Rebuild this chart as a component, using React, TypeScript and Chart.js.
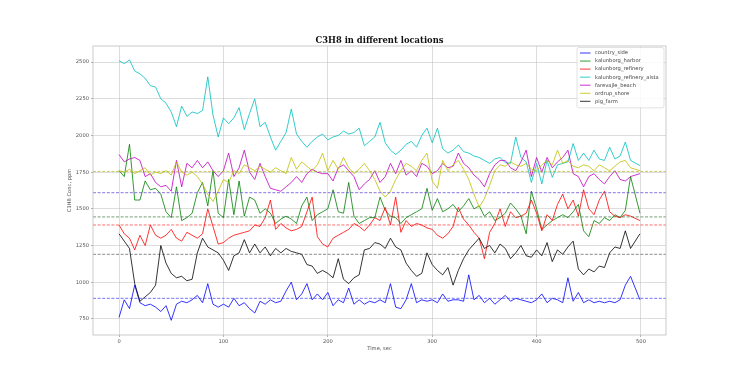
import { useEffect, useRef } from "react";
import { Chart, registerables } from "chart.js";

Chart.register(...registerables);

const TITLE = "C3H8 in different locations";
const X_LABEL = "Time, sec";
const Y_LABEL = "C3H8 Conc, ppm";

const TIMES = Array.from({ length: 100 }, (_, i) => (i === 99 ? 499 : i * 5));
const X_TICKS = [0, 100, 200, 300, 400, 500];
const Y_TICKS = [750, 1000, 1250, 1500, 1750, 2000, 2250, 2500];
const X_MIN = -24.95;
const X_MAX = 523.95;
const Y_MIN = 640;
const Y_MAX = 2610;

const SERIES_NAMES = [
  "country_side",
  "kalunborg_harbor",
  "kalunborg_refinery",
  "kalunborg_refinery_aista",
  "farevajle_beach",
  "ordrup_shore",
  "pig_farm",
];
const SERIES_COLORS = ["#0000ff", "#008000", "#ff0000", "#00bfbf", "#bf00bf", "#bfbf00", "#000000"];

const COUNTRY_SIDE = [
  760, 880, 820, 980, 860, 840, 850, 830, 800, 840,
  740, 850, 870, 860, 880, 910, 860, 990, 850, 830,
  850, 830, 890, 840, 860, 820, 790, 870, 850, 880,
  860, 870, 940, 1000, 880, 920, 990, 880, 920, 880,
  930, 840, 880, 860, 960, 850, 880, 850, 870, 860,
  880, 860, 990, 830, 820, 880, 990, 860, 880, 870,
  880, 860, 920, 870, 880, 880, 870, 1050, 880, 910,
  860, 890, 850, 880, 910, 870, 890, 880, 870, 860,
  880, 920, 860, 890, 880, 860, 1030, 870, 930, 860,
  880, 860, 870, 860, 870, 860, 880, 980, 1040, 880,
];
const KALUNBORG_HARBOR = [
  1760, 1720, 1940, 1560, 1560, 1690, 1630, 1640, 1600, 1480,
  1440, 1650, 1420, 1440, 1470, 1610, 1680, 1520, 1760, 1470,
  1440, 1700, 1460, 1690, 1450, 1580, 1560, 1470, 1500, 1470,
  1400, 1430, 1450, 1430, 1400, 1520, 1580, 1420, 1460, 1480,
  1500, 1630, 1480, 1470, 1680, 1450, 1400, 1420, 1440, 1440,
  1580, 1490, 1450, 1440, 1400, 1440, 1460, 1480, 1500, 1640,
  1490, 1570, 1480, 1500, 1530, 1480, 1520, 1570, 1500, 1520,
  1450, 1480, 1420, 1440, 1470, 1540, 1500, 1450, 1330, 1620,
  1500, 1360, 1390, 1420, 1440, 1460, 1440, 1480, 1530, 1350,
  1310, 1420, 1400, 1440, 1420, 1460, 1440, 1490, 1720, 1470,
];
const KALUNBORG_REFINERY = [
  1390, 1330, 1300, 1220, 1320, 1250, 1390, 1320, 1300, 1320,
  1360, 1300, 1280, 1340, 1320, 1300, 1330, 1500, 1380, 1260,
  1270, 1300, 1320, 1330, 1340, 1350, 1390, 1380, 1440, 1560,
  1360, 1400, 1370, 1350, 1360, 1380, 1480, 1580, 1310, 1260,
  1240, 1300, 1320, 1340, 1360, 1400, 1380, 1350, 1390, 1440,
  1420, 1510, 1390, 1580, 1340, 1420, 1380, 1400, 1390, 1370,
  1360, 1320, 1300, 1330, 1380, 1510, 1430, 1390, 1340, 1300,
  1160, 1340, 1400, 1500, 1380, 1480, 1440, 1450, 1470, 1560,
  1470, 1350, 1460, 1420, 1530, 1600, 1500, 1560, 1450, 1630,
  1500, 1460, 1560, 1620, 1480, 1450, 1440, 1460, 1450, 1420,
];
const KALUNBORG_REFINERY_AISTA = [
  2510, 2490, 2515, 2440, 2420, 2390, 2340, 2330, 2250, 2220,
  2160, 2060, 2200, 2130, 2160, 2150, 2170, 2400, 2140, 1990,
  2120, 2080, 2120, 2190, 2040, 2150, 2250, 2060, 2090, 1990,
  1900, 1960, 2020, 2180, 2010, 1960, 1920, 1960, 1990, 2010,
  1970, 1990, 2000, 2030, 2010, 2020, 2050, 1930, 1960, 1990,
  2090, 1950, 1900, 1870, 1900, 1940, 1960, 1920, 2000, 2050,
  1950, 2050, 1910, 1880, 1900, 1935, 1890, 1880, 1860, 1850,
  1830, 1810, 1840, 1850, 1815, 1810, 1990, 1850, 1820, 1680,
  1810, 1670, 1830, 1715, 1800, 1810, 1820, 1945, 1830, 1880,
  1830, 1900, 1840, 1830, 1920, 1840, 1860, 1955, 1830, 1795,
];
const FAREVAJLE_BEACH = [
  1870, 1820, 1840, 1850, 1830, 1720, 1740, 1680, 1650, 1660,
  1620, 1830, 1650, 1810, 1780, 1830, 1780, 1820, 1760, 1720,
  1760, 1880, 1720, 1780, 1900, 1750, 1700, 1810, 1720, 1640,
  1630, 1620, 1650, 1680, 1720, 1680, 1740, 1770, 1750, 1740,
  1740, 1690, 1780, 1800, 1760, 1720, 1630, 1670, 1700, 1760,
  1680, 1720, 1810, 1740, 1830, 1730, 1760, 1720, 1810, 1790,
  1740, 1760, 1810, 1780, 1790, 1880, 1810, 1780, 1730, 1700,
  1650, 1740, 1800, 1830, 1830, 1780, 1760, 1820, 1900, 1720,
  1850, 1750, 1850, 1780, 1820, 1850, 1900, 1740, 1720, 1650,
  1720, 1740, 1700, 1670, 1720, 1760, 1700, 1690, 1720, 1740,
];
const ORDRUP_SHORE = [
  1760, 1750, 1770, 1740, 1760, 1780, 1730, 1750, 1740, 1760,
  1730, 1820, 1750, 1730, 1750, 1720, 1670, 1600, 1550, 1620,
  1700, 1680, 1760, 1740, 1800, 1780, 1760, 1790, 1770, 1750,
  1780, 1760, 1740, 1850, 1770, 1820, 1790, 1760, 1800, 1880,
  1760, 1830, 1770, 1850, 1780, 1740, 1770, 1810, 1760, 1700,
  1620, 1580, 1620, 1700, 1760, 1810, 1790, 1760, 1830, 1880,
  1690, 1640, 1830, 1760, 1800, 1830, 1770, 1700, 1600, 1510,
  1570, 1660, 1760, 1800, 1790, 1820, 1800, 1790, 1810, 1770,
  1760, 1800, 1830, 1800, 1900, 1810, 1830, 1790, 1780, 1800,
  1790, 1760, 1800, 1780, 1760, 1790, 1820, 1830, 1780, 1760,
];
const PIG_FARM = [
  1330, 1280, 1230, 990, 870, 900, 930, 980, 1250, 1130,
  1060, 1030, 1040, 1010, 1020, 1200, 1300, 1240, 1220, 1200,
  1150, 1080, 1180, 1200, 1290, 1200, 1260, 1200, 1240, 1180,
  1230, 1200, 1230, 1210, 1200, 1190, 1120, 1110, 1060, 1080,
  1060, 1030, 1160, 1020, 990, 1030, 1050, 1220, 1230, 1270,
  1260, 1230, 1300, 1240, 1220, 1130, 1080, 1040, 1060, 1200,
  1120, 1080, 1050, 1100, 980, 1080, 1160, 1220, 1260, 1300,
  1230, 1250, 1200, 1260, 1230, 1160, 1200, 1250, 1180, 1170,
  1220, 1180, 1270, 1140, 1220, 1190, 1240, 1280, 1090, 1050,
  1090, 1070, 1110, 1100, 1200, 1240, 1230, 1350, 1230, 1330,
];

const SERIES_VALUES = [
  COUNTRY_SIDE,
  KALUNBORG_HARBOR,
  KALUNBORG_REFINERY,
  KALUNBORG_REFINERY_AISTA,
  FAREVAJLE_BEACH,
  ORDRUP_SHORE,
  PIG_FARM,
];

const REF_LEVELS = [890, 1610, 1445, 1390, 1190, 1755];
const REF_COLORS = [
  "rgba(50,50,235,0.85)",
  "rgba(80,50,205,0.85)",
  "rgba(40,100,40,0.8)",
  "rgba(255,40,40,0.85)",
  "rgba(60,60,60,0.75)",
  "rgba(175,175,30,0.85)",
];

const GRID_COLOR = "rgba(176,176,176,0.55)";
const TICK_FONT = { family: "DejaVu Sans", size: 5.2 };

const decorPlugin = {
  id: "decor",
  afterDraw(chart: any) {
    const ctx: CanvasRenderingContext2D = chart.ctx;
    const a = chart.chartArea;
    ctx.save();
    // spines
    ctx.strokeStyle = "#bdbdbd";
    ctx.lineWidth = 0.8;
    ctx.strokeRect(a.left, a.top, a.right - a.left, a.bottom - a.top);

    // title
    ctx.fillStyle = "#111111";
    ctx.font = 'bold 8.4px "DejaVu Serif"';
    ctx.textAlign = "center";
    ctx.textBaseline = "alphabetic";
    ctx.fillText(TITLE, (a.left + a.right) / 2, a.top - 3.5);

    // axis labels
    ctx.font = '5.2px "DejaVu Sans"';
    ctx.fillStyle = "#555555";
    ctx.textBaseline = "middle";
    ctx.fillText(X_LABEL, (a.left + a.right) / 2, a.bottom + 14);
    ctx.save();
    ctx.translate(a.left - 23, (a.top + a.bottom) / 2);
    ctx.rotate(-Math.PI / 2);
    ctx.fillText(Y_LABEL, 0, 0);
    ctx.restore();

    // legend
    const boxR = a.right - 2;
    const boxL = boxR - 87;
    const boxT = a.top + 1.5;
    const rowH = 8.05;
    const boxB = boxT + 4 + rowH * SERIES_NAMES.length;
    ctx.beginPath();
    const r = 2;
    ctx.moveTo(boxL + r, boxT);
    ctx.lineTo(boxR - r, boxT);
    ctx.quadraticCurveTo(boxR, boxT, boxR, boxT + r);
    ctx.lineTo(boxR, boxB - r);
    ctx.quadraticCurveTo(boxR, boxB, boxR - r, boxB);
    ctx.lineTo(boxL + r, boxB);
    ctx.quadraticCurveTo(boxL, boxB, boxL, boxB - r);
    ctx.lineTo(boxL, boxT + r);
    ctx.quadraticCurveTo(boxL, boxT, boxL + r, boxT);
    ctx.closePath();
    ctx.fillStyle = "rgba(255,255,255,0.85)";
    ctx.fill();
    ctx.strokeStyle = "#d6d6d6";
    ctx.lineWidth = 0.7;
    ctx.stroke();

    ctx.textAlign = "left";
    ctx.textBaseline = "middle";
    ctx.font = '5.2px "DejaVu Sans"';
    SERIES_NAMES.forEach((name, i) => {
      const y = boxT + 5.5 + i * rowH;
      ctx.strokeStyle = SERIES_COLORS[i];
      ctx.lineWidth = 0.8;
      ctx.beginPath();
      ctx.moveTo(boxL + 3, y);
      ctx.lineTo(boxL + 13.5, y);
      ctx.stroke();
      ctx.fillStyle = "#444444";
      ctx.fillText(name, boxL + 18, y);
    });
    ctx.restore();
  },
};

export default function App() {
  const ref = useRef<HTMLCanvasElement>(null);
  useEffect(() => {
    if (!ref.current) return;
    const seriesSets = SERIES_VALUES.map((vals, i) => ({
      label: SERIES_NAMES[i],
      data: vals.map((v, k) => ({ x: TIMES[k], y: v })),
      borderColor: SERIES_COLORS[i],
      backgroundColor: SERIES_COLORS[i],
      borderWidth: 0.8,
      pointRadius: 0,
      tension: 0,
      fill: false,
      order: 100 - i,
    }));
    const refSets = REF_LEVELS.map((lv, i) => ({
      label: "ref" + i,
      data: [
        { x: X_MIN, y: lv },
        { x: X_MAX, y: lv },
      ],
      borderColor: REF_COLORS[i],
      backgroundColor: REF_COLORS[i],
      borderWidth: 0.8,
      borderDash: [3, 1.6],
      pointRadius: 0,
      fill: false,
      order: 10 - i,
    }));
    const chart = new Chart(ref.current, {
      type: "line",
      data: { datasets: [...seriesSets, ...refSets] as any },
      options: {
        animation: false,
        responsive: false,
        maintainAspectRatio: false,
        layout: { padding: { left: 0, right: 74, top: 46, bottom: 0 } },
        plugins: {
          legend: { display: false },
          title: { display: false },
          tooltip: { enabled: false },
        },
        scales: {
          x: {
            type: "linear",
            min: X_MIN,
            max: X_MAX,
            afterBuildTicks: (s: any) => {
              s.ticks = X_TICKS.map((v) => ({ value: v }));
            },
            afterFit: (s: any) => {
              s.height = 41;
            },
            grid: { color: GRID_COLOR, lineWidth: 0.8, tickLength: 2, tickColor: "#9a9a9a" },
            border: { display: false },
            ticks: {
              font: TICK_FONT,
              color: "#555555",
              padding: 2,
              maxRotation: 0,
              autoSkip: false,
              callback: (v: any) => String(v),
            },
          },
          y: {
            type: "linear",
            min: Y_MIN,
            max: Y_MAX,
            afterBuildTicks: (s: any) => {
              s.ticks = Y_TICKS.map((v) => ({ value: v }));
            },
            afterFit: (s: any) => {
              s.width = 93;
            },
            grid: { color: GRID_COLOR, lineWidth: 0.8, tickLength: 2, tickColor: "#9a9a9a" },
            border: { display: false },
            ticks: {
              font: TICK_FONT,
              color: "#555555",
              padding: 2,
              autoSkip: false,
              callback: (v: any) => String(v),
            },
          },
        },
      },
      plugins: [decorPlugin],
    });
    return () => chart.destroy();
  }, []);
  return (
    <div style={{ position: "fixed", left: 0, top: 0, width: 740, height: 376, background: "#ffffff" }}>
      <canvas ref={ref} width={740} height={376} style={{ display: "block", width: 740, height: 376 }} />
    </div>
  );
}
